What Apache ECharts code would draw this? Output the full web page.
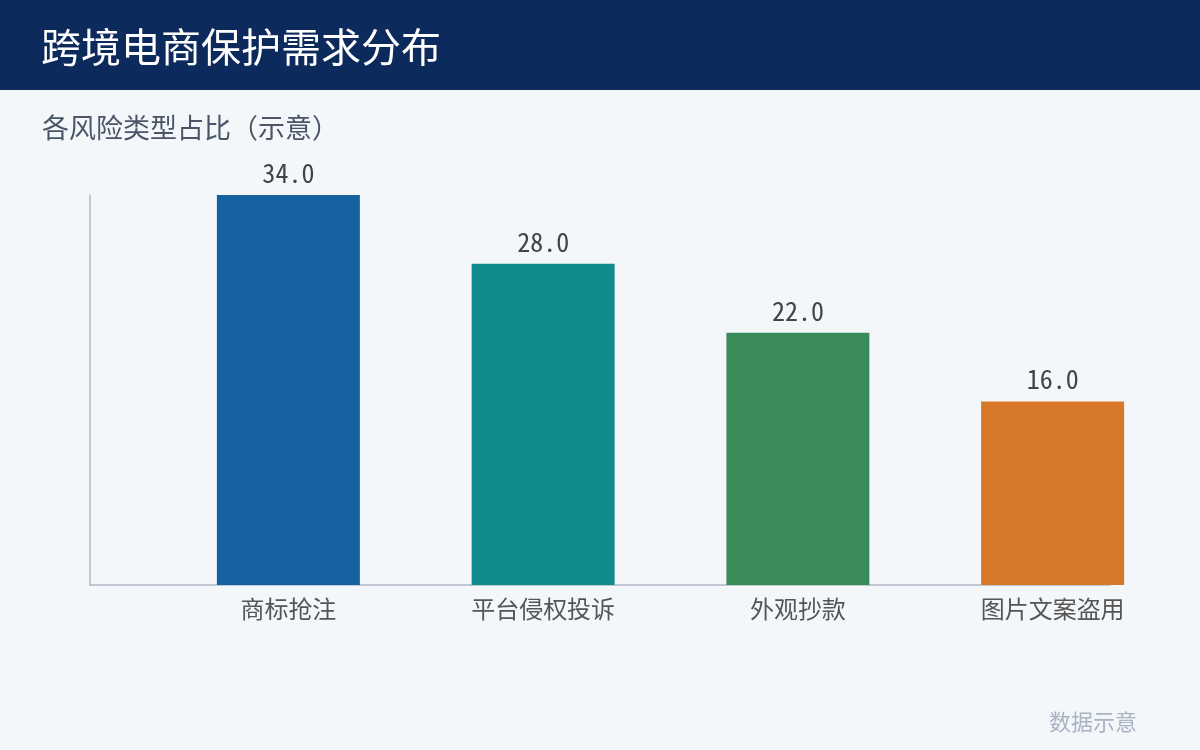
<!DOCTYPE html>
<html>
<head>
<meta charset="utf-8">
<script src="https://cdn.jsdelivr.net/npm/echarts@6/dist/echarts.min.js"></script>
<style>
html,body{margin:0;padding:0;background:#f4f7fa;}
#chart{width:1200px;height:750px;}
</style>
</head>
<body>
<div id="chart"></div>
<script>
const titleText = '跨境电商保护需求分布';
const subtitleText = '各风险类型占比（示意）';
const noteText = '数据示意';
const categories = ['商标抢注', '平台侵权投诉', '外观抄款', '图片文案盗用'];
const values = [34.0, 28.0, 22.0, 16.0];
const barColors = ['#1661a0', '#128b8f', '#3b8c5b', '#d77829'];

const FONT = '"Noto Sans Mono CJK SC", "Noto Sans CJK SC", sans-serif';
const chart = echarts.init(document.getElementById('chart'));
chart.setOption({
  backgroundColor: '#f4f7fa',
  animation: false,
  graphic: [
    { type: 'rect', left: 0, top: 0, z: 0, shape: { width: 1200, height: 90 }, style: { fill: '#0d2a5c' } }
  ],
  title: [
    { text: titleText, left: 36, top: 22, textStyle: { color: '#ffffff', fontSize: 40, fontWeight: 'normal', fontFamily: FONT } },
    { text: subtitleText, left: 37, top: 109, textStyle: { color: '#4a5568', fontSize: 27, fontWeight: 'normal', fontFamily: FONT } },
    { text: noteText, right: 58, top: 706, textStyle: { color: '#a9b4c2', fontSize: 22, fontWeight: 'normal', fontFamily: FONT } }
  ],
  grid: [
    { left: 161, right: 20, top: 195, bottom: 165 },
    { left: 90, right: 90, top: 195, bottom: 165 }
  ],
  xAxis: [
    {
      type: 'category', gridIndex: 0, data: categories,
      axisLine: { show: false }, axisTick: { show: false },
      axisLabel: { color: '#555555', fontSize: 24, margin: 12, fontFamily: FONT }
    },
    {
      type: 'value', gridIndex: 1, min: 0, max: 1,
      axisLine: { show: true, lineStyle: { color: '#aeb9c7', width: 1.5 } },
      axisTick: { show: false }, axisLabel: { show: false }, splitLine: { show: false }
    }
  ],
  yAxis: [
    {
      type: 'value', gridIndex: 0, min: 0, max: 34,
      axisLine: { show: false }, axisTick: { show: false }, axisLabel: { show: false }, splitLine: { show: false }
    },
    {
      type: 'value', gridIndex: 1, min: 0, max: 1,
      axisLine: { show: true, lineStyle: { color: '#aeb9c7', width: 1.5 } },
      axisTick: { show: false }, axisLabel: { show: false }, splitLine: { show: false }
    }
  ],
  series: [
    {
      type: 'bar', xAxisIndex: 0, yAxisIndex: 0, z: 5,
      barWidth: 143,
      data: values.map((v, i) => ({ value: v, itemStyle: { color: barColors[i] } })),
      label: {
        show: true, position: 'top', distance: 9,
        color: '#444444', fontSize: 26, fontFamily: FONT,
        formatter: p => p.value.toFixed(1)
      }
    }
  ]
});
</script>
</body>
</html>
